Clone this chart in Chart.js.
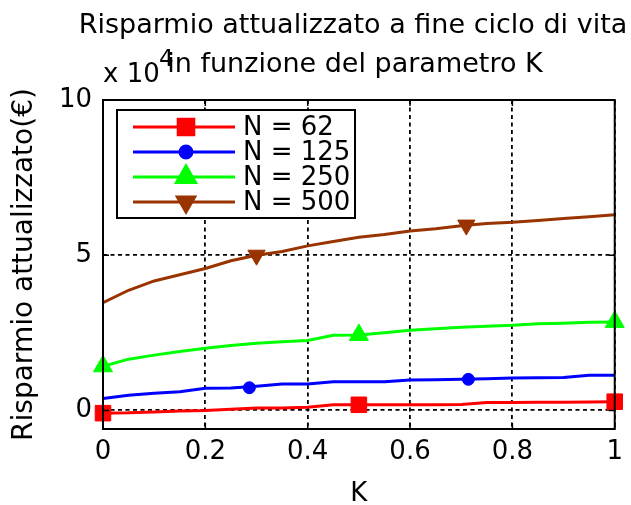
<!DOCTYPE html>
<html lang="it">
<head>
  <meta charset="UTF-8">
  <title>Risparmio attualizzato</title>
  <script src="https://cdn.jsdelivr.net/npm/chart.js"></script>
  <style>
    html, body {
      margin: 0;
      padding: 0;
      background: #fff;
    }
    canvas {
      display: block;
    }
  </style>
</head>
<body>
  <canvas id="chart" width="631" height="505"></canvas>

  <script>
    // values (x 10^4 euro)
    const kValues = [0, 0.05, 0.1, 0.15, 0.2, 0.25, 0.3, 0.35, 0.4, 0.45, 0.5,
                     0.55, 0.6, 0.65, 0.7, 0.75, 0.8, 0.85, 0.9, 0.95, 1];
    const savingN62 = [-0.09, -0.08, -0.05, -0.02, 0.0, 0.04, 0.08, 0.08, 0.10, 0.18, 0.18,
                       0.18, 0.18, 0.18, 0.19, 0.25, 0.25, 0.26, 0.26, 0.27, 0.28];
    const savingN125 = [0.38, 0.49, 0.55, 0.60, 0.71, 0.72, 0.78, 0.85, 0.85, 0.92, 0.92,
                        0.92, 0.98, 0.99, 1.0, 1.02, 1.04, 1.05, 1.06, 1.13, 1.13];
    const savingN250 = [1.42, 1.65, 1.78, 1.90, 2.0, 2.09, 2.16, 2.21, 2.25, 2.42, 2.43,
                        2.50, 2.58, 2.63, 2.68, 2.71, 2.74, 2.79, 2.81, 2.84, 2.85];
    const savingN500 = [3.47, 3.87, 4.17, 4.37, 4.57, 4.82, 5.0, 5.12, 5.30, 5.44, 5.58,
                        5.67, 5.78, 5.85, 5.95, 6.02, 6.06, 6.12, 6.18, 6.24, 6.30];

    // where the markers sit on each curve
    const markK62 = [0, 0.5, 1];
    const markN62 = [-0.09, 0.18, 0.28];
    const markK125 = [0.286, 0.714];
    const markN125 = [0.73, 1.0];
    const markK250 = [0, 0.5, 1];
    const markN250 = [1.42, 2.43, 2.85];
    const markK500 = [0.3, 0.71];
    const markN500 = [5.0, 5.97];

    const seriesLabels = ['N = 62', 'N = 125', 'N = 250', 'N = 500'];
    const xTicks = [0, 0.2, 0.4, 0.6, 0.8, 1];
    const yTicks = [0, 5, 10];

    const colors = ['#ff0000', '#0000ff', '#00ff00', '#993300'];
    const markerStyles = ['rect', 'circle', 'triangle', 'triangle'];
    const markerRotation = [0, 0, 0, 180];
    const markerRadius = [11, 6, 11, 10];

    const FONT = '"DejaVu Sans", "Liberation Sans", Arial, sans-serif';
    Chart.defaults.font.family = FONT;
    Chart.defaults.color = '#000';

    const curves = [savingN62, savingN125, savingN250, savingN500];
    const marksK = [markK62, markK125, markK250, markK500];
    const marksV = [markN62, markN125, markN250, markN500];

    const datasets = [];
    curves.forEach((vals, i) => {
      datasets.push({
        label: seriesLabels[i],
        data: kValues.map((k, j) => ({ x: k, y: vals[j] })),
        borderColor: colors[i],
        borderWidth: 3,
        pointRadius: 0,
        tension: 0
      });
    });
    marksK.forEach((ks, i) => {
      datasets.push({
        label: seriesLabels[i] + ' marker',
        data: ks.map((k, j) => ({ x: k, y: marksV[i][j] })),
        showLine: false,
        pointStyle: markerStyles[i],
        rotation: markerRotation[i],
        pointRadius: markerRadius[i],
        backgroundColor: colors[i],
        borderColor: colors[i],
        borderWidth: 1,
        clip: false
      });
    });

    // titles, "x 10^4" and the box with inward ticks
    const framePlugin = {
      id: 'frame',
      afterDraw(chart) {
        const ctx = chart.ctx;
        const a = chart.chartArea;
        const xs = chart.scales.x, ys = chart.scales.y;
        ctx.save();
        ctx.strokeStyle = '#000';
        ctx.lineWidth = 2;
        ctx.strokeRect(a.left, a.top, a.right - a.left, a.bottom - a.top);
        ctx.lineWidth = 1.5;
        ctx.beginPath();
        xTicks.forEach(v => {
          const px = xs.getPixelForValue(v);
          ctx.moveTo(px, a.bottom); ctx.lineTo(px, a.bottom - 6);
          ctx.moveTo(px, a.top); ctx.lineTo(px, a.top + 6);
        });
        yTicks.forEach(v => {
          const py = ys.getPixelForValue(v);
          ctx.moveTo(a.left, py); ctx.lineTo(a.left + 6, py);
          ctx.moveTo(a.right, py); ctx.lineTo(a.right - 6, py);
        });
        ctx.stroke();

        ctx.fillStyle = '#000';
        ctx.textAlign = 'center';
        ctx.textBaseline = 'alphabetic';
        ctx.font = '27px ' + FONT;
        ctx.fillText('Risparmio attualizzato a fine ciclo di vita', 353, 33);
        ctx.fillText('in funzione del parametro K', 355, 72);

        ctx.textAlign = 'left';
        ctx.font = '26px ' + FONT;
        ctx.fillText('x 10', 103, 82);
        ctx.font = '23px ' + FONT;
        ctx.fillText('4', 159, 66);
        ctx.restore();
      }
    };

    // legend drawn inside the axes, upper left
    const legendPlugin = {
      id: 'innerLegend',
      afterDraw(chart) {
        const ctx = chart.ctx;
        const box = { x: 117, y: 110, w: 238, h: 108 };
        ctx.save();
        ctx.fillStyle = '#fff';
        ctx.fillRect(box.x, box.y, box.w, box.h);
        ctx.strokeStyle = '#000';
        ctx.lineWidth = 2;
        ctx.strokeRect(box.x, box.y, box.w, box.h);
        ctx.font = '26px ' + FONT;
        ctx.textBaseline = 'middle';
        ctx.textAlign = 'left';
        seriesLabels.forEach((lab, i) => {
          const y = box.y + 17 + i * 25;
          ctx.strokeStyle = colors[i];
          ctx.lineWidth = 3;
          ctx.beginPath();
          ctx.moveTo(box.x + 16, y);
          ctx.lineTo(box.x + 118, y);
          ctx.stroke();
          ctx.fillStyle = colors[i];
          Chart.helpers.drawPoint(ctx, {
            pointStyle: markerStyles[i],
            rotation: markerRotation[i],
            radius: markerRadius[i],
            borderWidth: 1
          }, box.x + 69, y);
          ctx.fillStyle = '#000';
          ctx.fillText(lab, box.x + 126, y + 1);
        });
        ctx.restore();
      }
    };

    new Chart(document.getElementById('chart'), {
      type: 'line',
      data: { datasets: datasets },
      options: {
        responsive: false,
        animation: false,
        devicePixelRatio: 1,
        layout: { padding: { top: 100, right: 16, left: 0, bottom: 0 } },
        plugins: {
          legend: { display: false },
          tooltip: { enabled: false },
          title: { display: false }
        },
        scales: {
          x: {
            type: 'linear',
            min: 0,
            max: 1,
            afterBuildTicks: s => { s.ticks = xTicks.map(v => ({ value: v })); },
            afterFit: s => { s.height = 76; },
            ticks: {
              font: { size: 26 },
              padding: 8,
              maxRotation: 0,
              callback: v => String(v)
            },
            grid: { color: '#000', lineWidth: 1.8, drawTicks: false },
            border: { display: false, dash: [4, 3.5] },
            title: {
              display: true,
              text: 'K',
              font: { size: 26, lineHeight: 0.8 },
              padding: 0
            }
          },
          y: {
            type: 'linear',
            min: -0.6,
            max: 10,
            afterBuildTicks: s => { s.ticks = yTicks.map(v => ({ value: v })); },
            afterFit: s => { s.width = 103; },
            ticks: {
              font: { size: 26 },
              padding: 11
            },
            grid: { color: '#000', lineWidth: 1.8, drawTicks: false },
            border: { display: false, dash: [4, 3.5] },
            title: {
              display: true,
              text: 'Risparmio attualizzato(€)',
              font: { size: 28 },
              padding: { top: 8 }
            }
          }
        }
      },
      plugins: [framePlugin, legendPlugin]
    });
  </script>
</body>
</html>
